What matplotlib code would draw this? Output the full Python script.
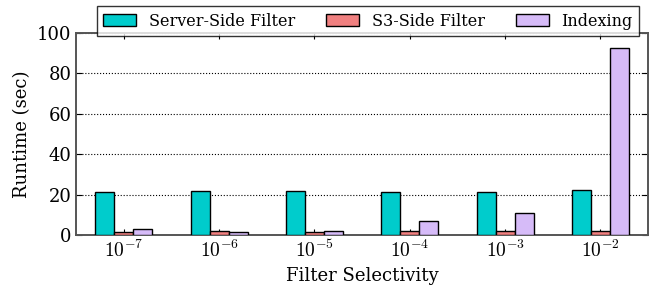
import numpy as np
import matplotlib.pyplot as plt

plt.rcParams['font.family'] = 'DejaVu Serif'
plt.rcParams['mathtext.fontset'] = 'cm'

# === Data ===
selectivity = ['$10^{-7}$', '$10^{-6}$', '$10^{-5}$', '$10^{-4}$', '$10^{-3}$', '$10^{-2}$']
server_side = [21.2, 21.8, 22.0, 21.4, 21.4, 22.1]
s3_side = [1.7, 1.8, 1.6, 1.8, 1.9, 1.8]
indexing = [2.8, 1.4, 2.0, 7.1, 11.0, 92.4]

series = [
    ('Server-Side Filter', server_side, '#00cccc'),
    ('S3-Side Filter', s3_side, '#f08080'),
    ('Indexing', indexing, '#d6bbf8'),
]

fig = plt.figure(figsize=(6.62, 2.85), dpi=100)
ax = fig.add_axes([0.115, 0.175, 0.864, 0.709])

x = np.arange(len(selectivity))
w = 0.2
for k, (name, vals, col) in enumerate(series):
    ax.bar(x + (k - 1) * w, vals, w, color=col, edgecolor='black',
           linewidth=1.0, label=name, zorder=3)

ax.set_xlim(-0.5, 5.5)
ax.set_ylim(0, 100)
ax.set_xticks(x)
ax.set_xticklabels(selectivity, fontsize=14)
ax.set_yticks([0, 20, 40, 60, 80, 100])
ax.tick_params(axis='y', labelsize=13)
ax.tick_params(direction='in', top=True, right=True, length=4, width=0.8)
ax.yaxis.grid(True, linestyle=':', color='black', linewidth=0.8, zorder=0)
ax.set_axisbelow(True)
for sp in ax.spines.values():
    sp.set_color('#555555')
    sp.set_linewidth(1.4)

ax.set_xlabel('Filter Selectivity', fontsize=13)
ax.set_ylabel('Runtime (sec)', fontsize=13)

leg = fig.legend(loc='upper left', bbox_to_anchor=(0.146, 0.978), ncol=3,
                 fontsize=11.5, frameon=True, fancybox=False, edgecolor='black',
                 handlelength=2.06, handleheight=0.75, handletextpad=0.8,
                 columnspacing=1.94, borderpad=0.4, borderaxespad=0)
leg.get_frame().set_linewidth(1.0)
leg.set_zorder(10)

fig.savefig('out.png', dpi=100)
